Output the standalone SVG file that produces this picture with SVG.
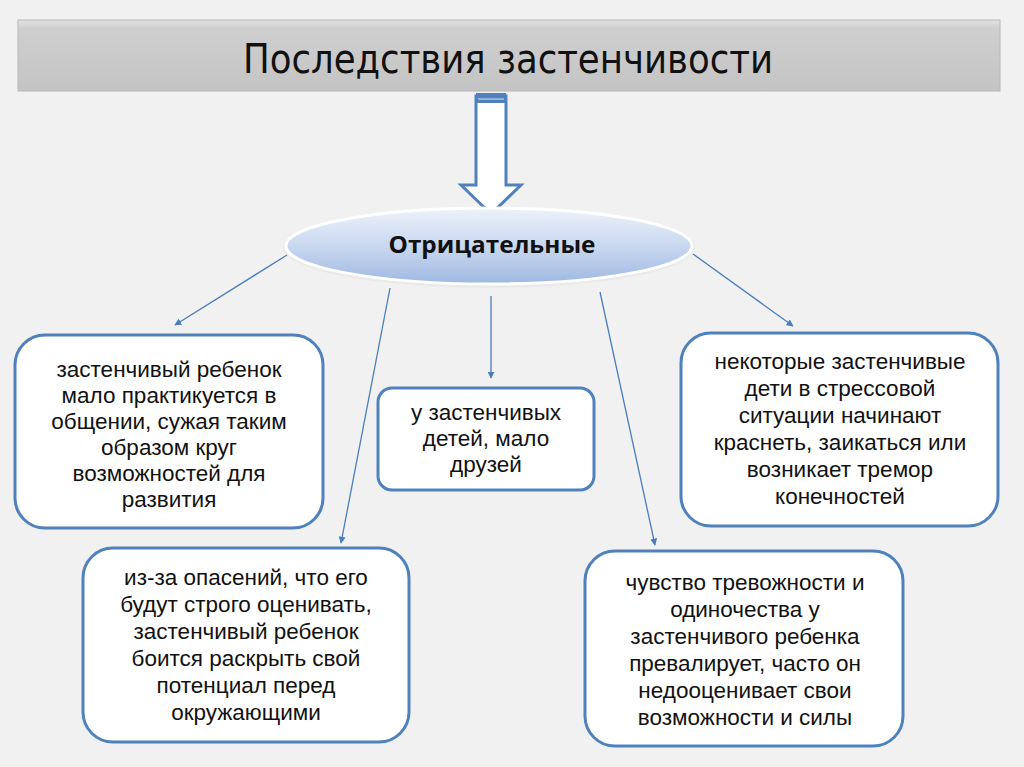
<svg xmlns="http://www.w3.org/2000/svg" width="1024" height="767" viewBox="0 0 1024 767">
<defs>
<linearGradient id="titleG" x1="0" y1="0" x2="0" y2="1">
<stop offset="0" stop-color="#e2e2e2"/><stop offset="0.12" stop-color="#cfcfcf"/><stop offset="1" stop-color="#c4c4c4"/>
</linearGradient>
<linearGradient id="ellG" x1="0" y1="0" x2="0" y2="1">
<stop offset="0" stop-color="#edf2fb"/><stop offset="0.5" stop-color="#c9d8f0"/><stop offset="1" stop-color="#9fb8e2"/>
</linearGradient>
<marker id="ah" viewBox="0 0 10 10" refX="9" refY="5" markerWidth="7" markerHeight="7" orient="auto-start-reverse" markerUnits="userSpaceOnUse">
<path d="M0,0 L10,5 L0,10 z" fill="#4a7ebb"/>
</marker>
<style>
.box{fill:#ffffff;stroke:#4f81bd;stroke-width:3}
.t{font-family:"Liberation Sans",Arial,sans-serif;font-size:22.5px;fill:#111;text-anchor:middle}
.c{stroke:#4a7ebb;stroke-width:1.3;fill:none;marker-end:url(#ah)}
</style>
</defs>
<rect width="1024" height="767" fill="#f1f1f1"/>
<g id="title">
<rect x="18" y="20" width="982" height="71" fill="url(#titleG)" stroke="#b8b8b8" stroke-width="1"/>
<text x="508" y="73" font-family="'Liberation Sans Narrow','DejaVu Sans Condensed',sans-serif" font-size="40" fill="#111" text-anchor="middle" textLength="530" lengthAdjust="spacingAndGlyphs">Последствия застенчивости</text>
</g>
<g id="bigArrow">
<path d="M476,96 L506,96 L506,185 L521,185 L491,214 L461,185 L476,185 Z" fill="#ffffff" stroke="#4f81bd" stroke-width="3" stroke-linejoin="miter"/>
<rect x="476" y="93" width="30" height="10" fill="#4f81bd"/>
<line x1="478" y1="99" x2="504" y2="99" stroke="#dce6f2" stroke-width="1"/>
</g>
<g id="center">
<ellipse cx="489" cy="248" rx="206" ry="40" fill="#e8e8e8" opacity="0.8"/>
<ellipse cx="489" cy="246" rx="203" ry="38" fill="url(#ellG)" stroke="#ffffff" stroke-width="3"/>
<text x="492" y="253" font-family="'Open Sans','Liberation Sans',sans-serif" font-size="23" font-weight="bold" fill="#111" text-anchor="middle" textLength="207" lengthAdjust="spacingAndGlyphs">Отрицательные</text>
</g>
<g id="connectors">
<line class="c" x1="287" y1="255" x2="175" y2="325"/>
<line class="c" x1="390" y1="288" x2="341" y2="543"/>
<line class="c" x1="491" y1="296" x2="491" y2="378"/>
<line class="c" x1="600" y1="292" x2="655" y2="545"/>
<line class="c" x1="693" y1="254" x2="793" y2="326"/>
</g>
<g id="node1">
<rect class="box" x="15" y="335" width="308" height="193" rx="30"/>
<text class="t"><tspan x="169" y="377">застенчивый ребенок</tspan><tspan x="169" y="403">мало практикуется в</tspan><tspan x="169" y="429">общении, сужая таким</tspan><tspan x="169" y="455">образом круг</tspan><tspan x="169" y="481">возможностей для</tspan><tspan x="169" y="507">развития</tspan></text>
</g>
<g id="node2">
<rect class="box" x="378" y="388" width="216" height="102" rx="14"/>
<text class="t"><tspan x="486" y="420">у застенчивых</tspan><tspan x="486" y="446">детей, мало</tspan><tspan x="486" y="472">друзей</tspan></text>
</g>
<g id="node3">
<rect class="box" x="681" y="333" width="317" height="193" rx="30"/>
<text class="t"><tspan x="840" y="369">некоторые застенчивые</tspan><tspan x="840" y="396">дети в стрессовой</tspan><tspan x="840" y="423">ситуации начинают</tspan><tspan x="840" y="450">краснеть, заикаться или</tspan><tspan x="840" y="477">возникает тремор</tspan><tspan x="840" y="504">конечностей</tspan></text>
</g>
<g id="node4">
<rect class="box" x="83" y="548" width="326" height="194" rx="30"/>
<text class="t"><tspan x="246" y="585">из-за опасений, что его</tspan><tspan x="246" y="612">будут строго оценивать,</tspan><tspan x="246" y="639">застенчивый ребенок</tspan><tspan x="246" y="666">боится раскрыть свой</tspan><tspan x="246" y="693">потенциал перед</tspan><tspan x="246" y="720">окружающими</tspan></text>
</g>
<g id="node5">
<rect class="box" x="585" y="551" width="318" height="195" rx="30"/>
<text class="t"><tspan x="745" y="590">чувство тревожности и</tspan><tspan x="745" y="617">одиночества у</tspan><tspan x="745" y="644">застенчивого ребенка</tspan><tspan x="745" y="671">превалирует, часто он</tspan><tspan x="745" y="698">недооценивает свои</tspan><tspan x="745" y="725">возможности и силы</tspan></text>
</g>
</svg>
